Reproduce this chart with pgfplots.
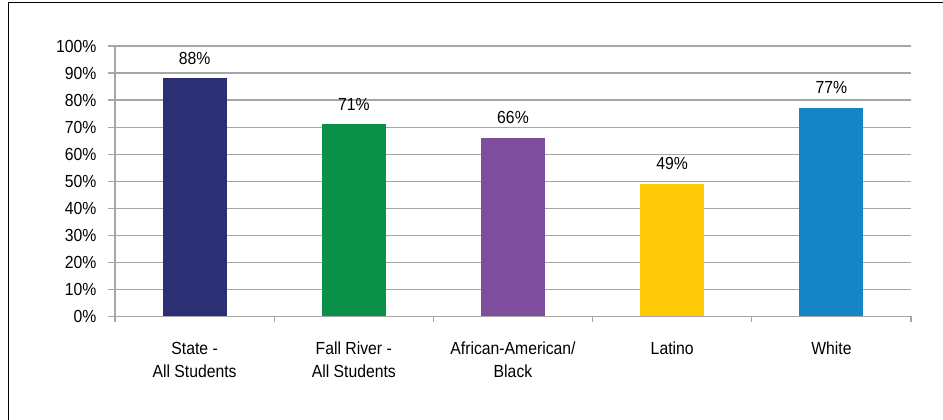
\documentclass[border=0pt]{standalone}
\usepackage{fontspec}
\setmainfont{Liberation Sans}[FakeStretch=0.9]
\usepackage{pgfplots}
\pgfplotsset{compat=1.18}
\definecolor{cState}{HTML}{2B2F73}
\definecolor{cFall}{HTML}{0A9048}
\definecolor{cAfr}{HTML}{7E4E9C}
\definecolor{cLat}{HTML}{FFC907}
\definecolor{cWhite}{HTML}{1485C5}
\definecolor{gridgray}{HTML}{A6A6A6}
\begin{document}
\begin{tikzpicture}[font=\fontsize{17.5pt}{23pt}\selectfont]
\path[use as bounding box] (0pt,0pt) rectangle (943pt,420pt);
\draw[line width=1.5pt] (8.5pt,0pt) -- (8.5pt,417.5pt) -- (943pt,417.5pt);
\begin{axis}[
  at={(115pt,103.5pt)}, anchor=south west,
  scale only axis, width=796pt, height=270.5pt,
  xmin=-0.5, xmax=4.5, ymin=0, ymax=100,
  axis x line=bottom, axis y line=left,
  axis line style={-, draw=gridgray, line width=1.2pt},
  ytick={0,10,20,30,40,50,60,70,80,90,100},
  yticklabels={0\%,10\%,20\%,30\%,40\%,50\%,60\%,70\%,80\%,90\%,100\%},
  ymajorgrids, grid style={draw=gridgray, line width=1.2pt},
  xtick={0,1,2,3,4},
  xticklabels={{State -\\All Students},{Fall River -\\All Students},{African-American/\\Black},{Latino},{White}},
  minor xtick={-0.5,0.5,1.5,2.5,3.5,4.5},
  tick align=outside,
  major tick length=7pt, minor tick length=6pt,
  tick style={draw=gridgray, line width=1.2pt},
  major x tick style={draw=none},
  xticklabel style={align=center, anchor=north, yshift=-15pt, font=\fontsize{17.5pt}{23pt}\selectfont},
  yticklabel style={anchor=east, xshift=-8pt, font=\fontsize{17.5pt}{23pt}\selectfont},
  ybar, bar width=64pt, bar shift=0pt,
  /pgf/number format/assume math mode=true,
  nodes near coords={\pgfmathprintnumber{\pgfplotspointmeta}\%},
  nodes near coords style={anchor=south, inner sep=0pt, yshift=14pt, font=\fontsize{17.5pt}{23pt}\selectfont, text=black},
]
\addplot[draw=none, fill=cState] coordinates {(0,88)};
\addplot[draw=none, fill=cFall] coordinates {(1,71)};
\addplot[draw=none, fill=cAfr] coordinates {(2,66)};
\addplot[draw=none, fill=cLat] coordinates {(3,49)};
\addplot[draw=none, fill=cWhite] coordinates {(4,77)};
\end{axis}
\end{tikzpicture}
\end{document}
